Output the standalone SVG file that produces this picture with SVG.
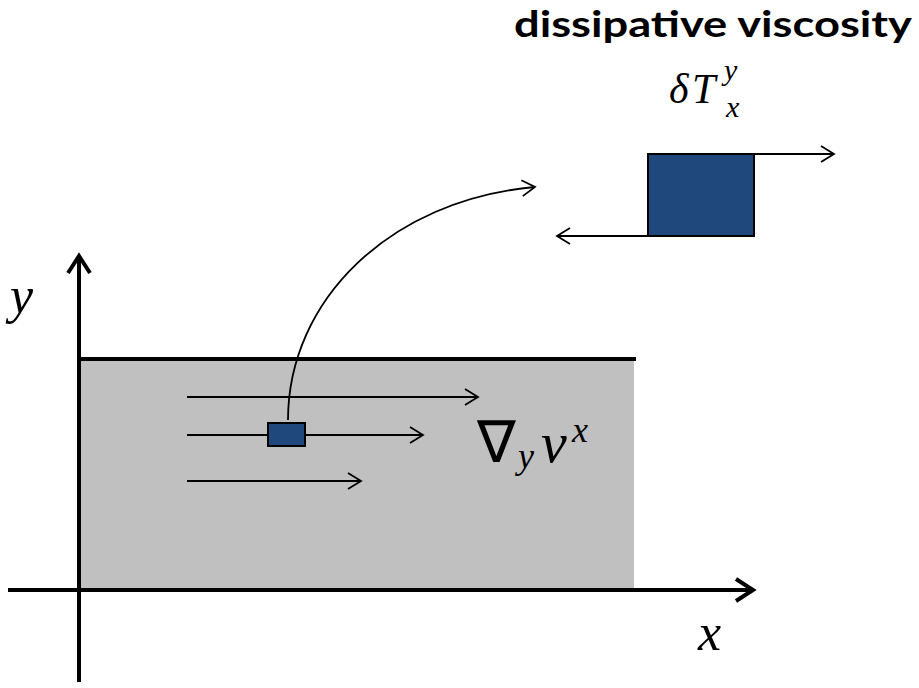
<svg xmlns="http://www.w3.org/2000/svg" width="919" height="688" viewBox="0 0 919 688">
<style>
.thin{stroke:#000;stroke-width:1.8;fill:none}
.axis{stroke:#000;stroke-width:4;fill:none}
.blue{fill:#1f497d;stroke:#000;stroke-width:2}
.math{font-style:italic;fill:#000}
.title{font-weight:bold;fill:#000}
</style>
<defs>
<marker id="a" markerUnits="userSpaceOnUse" markerWidth="20" markerHeight="20" refX="14" refY="10" orient="auto" viewBox="0 0 20 20">
<path d="M1,2 L14,10 L1,18" fill="none" stroke="#000" stroke-width="1.8"/>
</marker>
<marker id="ax" markerUnits="userSpaceOnUse" markerWidth="24" markerHeight="26" refX="20" refY="13" orient="auto" viewBox="0 0 24 26">
<path d="M3,2 L20,13 L3,24" fill="none" stroke="#000" stroke-width="4" stroke-linejoin="miter"/>
</marker>
</defs>
<rect x="0" y="0" width="919" height="688" fill="#fff"/>
<g id="region">
<rect x="79" y="359" width="555" height="230" fill="#c0c0c0"/>
<line x1="79" y1="359" x2="636" y2="359" class="axis"/>
</g>
<g id="axes">
<line x1="79" y1="682" x2="79" y2="256" class="axis" marker-end="url(#ax)"/>
<line x1="8" y1="590" x2="753" y2="590" class="axis" marker-end="url(#ax)"/>
</g>
<g id="connectors">
<line x1="187" y1="397" x2="478" y2="397" class="thin" marker-end="url(#a)"/>
<line x1="187" y1="435" x2="423" y2="435" class="thin" marker-end="url(#a)"/>
<line x1="187" y1="481" x2="361" y2="481" class="thin" marker-end="url(#a)"/>
<path d="M288,420 C288,300 390,200 535,187" class="thin" marker-end="url(#a)"/>
<line x1="702" y1="154" x2="834" y2="154" class="thin" marker-end="url(#a)"/>
<line x1="648" y1="236" x2="557" y2="236" class="thin" marker-end="url(#a)"/>
</g>
<g id="small-element">
<rect x="268" y="423" width="37" height="23" class="blue"/>
</g>
<g id="big-element">
<rect x="648" y="154" width="106" height="82" class="blue"/>
</g>
<g id="labels">
<text x="912" y="37" text-anchor="end" class="title" font-family="Lato, sans-serif" font-size="37" textLength="398" lengthAdjust="spacingAndGlyphs">dissipative viscosity</text>
<g font-family="Liberation Serif, serif">
<text x="669" y="103" class="math" font-size="42">δ</text>
<text x="692" y="103" class="math" font-size="42">T</text>
<text x="724" y="80" class="math" font-size="30">y</text>
<text x="726" y="117" class="math" font-size="30">x</text>
<text x="477" y="462" font-size="58" fill="#000">∇</text>
<text x="518" y="468" class="math" font-size="36">y</text>
<text x="541" y="462" class="math" font-size="58">v</text>
<text x="572" y="442" class="math" font-size="36">x</text>
<text x="10" y="313" class="math" font-size="52">y</text>
<text x="698" y="650" class="math" font-size="52">x</text>
</g>
</g>
</svg>
